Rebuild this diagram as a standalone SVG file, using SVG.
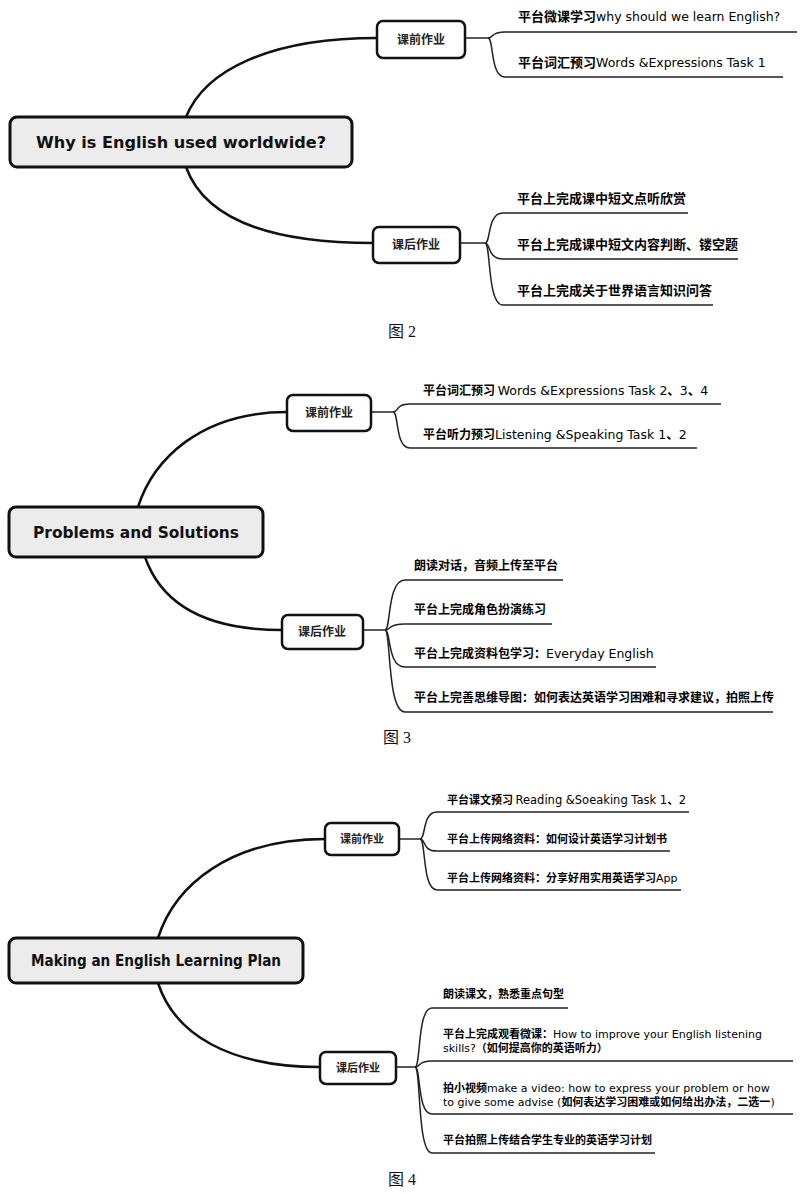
<svg xmlns="http://www.w3.org/2000/svg" width="800" height="1194" viewBox="0 0 800 1194">
<style>
.bg{fill:#fff}
.root rect{fill:#ececec;stroke:#111;stroke-width:3}
.root text{font-family:"DejaVu Sans","Noto Sans CJK SC",sans-serif;font-weight:bold;fill:#111;text-anchor:middle}
.box rect{fill:#fff;stroke:#111;stroke-width:2.5}
.box text{font-family:"Noto Sans CJK SC",sans-serif;font-weight:bold;fill:#222;text-anchor:middle}
.main{fill:none;stroke:#111;stroke-width:2.5}
.br{fill:none;stroke:#222;stroke-width:1.5}
.leaf{font-family:"DejaVu Sans","Noto Sans CJK SC",sans-serif;fill:#000}
.cj{font-family:"Noto Sans CJK SC",sans-serif;font-weight:bold}
.cap{font-family:"Liberation Serif","Noto Sans CJK SC",serif;font-size:16px;fill:#111}
</style>
<rect class="bg" x="0" y="0" width="800" height="1194"/>

<g id="connectors">
  <!-- diagram 1 -->
  <path class="main" d="M186,117 C205,70 270,38 377,38"/>
  <path class="main" d="M186,167 C205,220 270,243 373,243"/>
  <path class="br" d="M465,38 L488,38"/>
  <path class="br" d="M488,38 C494,38 490,32 505,32 L797,32"/>
  <path class="br" d="M488,38 C494,38 490,77 505,77 L783,77"/>
  <path class="br" d="M460,243 L485,243"/>
  <path class="br" d="M485,243 C491,243 487,213 503,213 L688,213"/>
  <path class="br" d="M485,243 C491,243 487,259 503,259 L738,259"/>
  <path class="br" d="M485,243 C491,243 487,305 503,305 L713,305"/>
  <!-- diagram 2 -->
  <path class="main" d="M138,507 C153,460 200,412 287,412"/>
  <path class="main" d="M145,557 C160,600 200,630 282,630"/>
  <path class="br" d="M371,412 L393,412"/>
  <path class="br" d="M393,412 C399,412 395,404 410,404 L721,404"/>
  <path class="br" d="M393,412 C399,412 395,448 410,448 L697,448"/>
  <path class="br" d="M363,630 L385,630"/>
  <path class="br" d="M385,630 C391,630 387,580 405,580 L563,580"/>
  <path class="br" d="M385,630 C391,630 387,624 405,624 L552,624"/>
  <path class="br" d="M385,630 C391,630 387,667 405,667 L656,667"/>
  <path class="br" d="M385,630 C391,630 387,712 405,712 L773,712"/>
  <!-- diagram 3 -->
  <path class="main" d="M158,938 C175,885 230,839 325,839"/>
  <path class="main" d="M158,983 C175,1035 230,1067 320,1067"/>
  <path class="br" d="M399,839 L420,839"/>
  <path class="br" d="M420,839 C426,839 422,812 437,812 L689,812"/>
  <path class="br" d="M420,839 C426,839 422,851 437,851 L670,851"/>
  <path class="br" d="M420,839 C426,839 422,890 437,890 L681,890"/>
  <path class="br" d="M396,1067 L415,1067"/>
  <path class="br" d="M415,1067 C421,1067 417,1008 432,1008 L568,1008"/>
  <path class="br" d="M415,1067 C421,1067 417,1061 432,1061 L793,1061"/>
  <path class="br" d="M415,1067 C421,1067 417,1114 432,1114 L793,1114"/>
  <path class="br" d="M415,1067 C421,1067 417,1153 432,1153 L655,1153"/>
</g>

<!-- Diagram 1 -->
<g id="root1" class="root"><rect x="10" y="117" width="342" height="50" rx="7"/><text x="181" y="148" font-size="16" textLength="290" lengthAdjust="spacingAndGlyphs">Why is English used worldwide?</text></g>
<g id="pre1" class="box"><rect x="377" y="21" width="88" height="37" rx="6"/><text x="421" y="44" font-size="12">课前作业</text></g>
<g id="post1" class="box"><rect x="373" y="227" width="87" height="36" rx="6"/><text x="416" y="249" font-size="12">课后作业</text></g>
<g id="d1a"><text class="leaf" x="518" y="21" font-size="12.5"><tspan class="cj" font-size="13">平台微课学习</tspan>why should we learn English?</text></g>
<g id="d1b"><text class="leaf" x="518" y="67" font-size="12.5"><tspan class="cj" font-size="13">平台词汇预习</tspan>Words &amp;Expressions Task 1</text></g>
<g id="d1c"><text class="leaf cj" x="517" y="203" font-size="13">平台上完成课中短文点听欣赏</text></g>
<g id="d1d"><text class="leaf cj" x="517" y="249" font-size="13">平台上完成课中短文内容判断、镂空题</text></g>
<g id="d1e"><text class="leaf cj" x="517" y="295" font-size="13">平台上完成关于世界语言知识问答</text></g>
<text class="cap" x="388" y="337">图 2</text>

<!-- Diagram 2 -->
<g id="root2" class="root"><rect x="9" y="507" width="254" height="50" rx="7"/><text x="136" y="538" font-size="16" textLength="206" lengthAdjust="spacingAndGlyphs">Problems and Solutions</text></g>
<g id="pre2" class="box"><rect x="287" y="395" width="84" height="36" rx="6"/><text x="329" y="417" font-size="12">课前作业</text></g>
<g id="post2" class="box"><rect x="282" y="615" width="81" height="34" rx="6"/><text x="322" y="636" font-size="12">课后作业</text></g>
<g id="d2a"><text class="leaf" x="423" y="395" font-size="12.5"><tspan class="cj" font-size="12">平台词汇预习 </tspan>Words &amp;Expressions Task 2<tspan class="cj">、</tspan>3<tspan class="cj">、</tspan>4</text></g>
<g id="d2b"><text class="leaf" x="423" y="439" font-size="12.5"><tspan class="cj" font-size="12">平台听力预习</tspan>Listening &amp;Speaking Task 1<tspan class="cj">、</tspan>2</text></g>
<g id="d2c"><text class="leaf cj" x="414" y="570" font-size="12">朗读对话，音频上传至平台</text></g>
<g id="d2d"><text class="leaf cj" x="414" y="614" font-size="12">平台上完成角色扮演练习</text></g>
<g id="d2e"><text class="leaf" x="414" y="658" font-size="12.5"><tspan class="cj" font-size="12">平台上完成资料包学习：</tspan>Everyday English</text></g>
<g id="d2f"><text class="leaf cj" x="414" y="702" font-size="12">平台上完善思维导图：如何表达英语学习困难和寻求建议，拍照上传</text></g>
<text class="cap" x="383" y="743">图 3</text>

<!-- Diagram 3 -->
<g id="root3" class="root"><rect x="9" y="938" width="294" height="45" rx="7"/><text x="156" y="966" font-size="16" textLength="250" lengthAdjust="spacingAndGlyphs">Making an English Learning Plan</text></g>
<g id="pre3" class="box"><rect x="325" y="823" width="74" height="32" rx="6"/><text x="362" y="843" font-size="11">课前作业</text></g>
<g id="post3" class="box"><rect x="320" y="1052" width="76" height="32" rx="6"/><text x="358" y="1072" font-size="11">课后作业</text></g>
<g id="d3a"><text class="leaf" x="447" y="804" font-size="11.5"><tspan class="cj" font-size="11">平台课文预习 </tspan>Reading &amp;Soeaking Task 1<tspan class="cj">、</tspan>2</text></g>
<g id="d3b"><text class="leaf cj" x="447" y="843" font-size="11">平台上传网络资料：如何设计英语学习计划书</text></g>
<g id="d3c"><text class="leaf" x="447" y="882" font-size="11"><tspan class="cj">平台上传网络资料：分享好用实用英语学习</tspan>App</text></g>
<g id="d3d"><text class="leaf cj" x="443" y="998" font-size="11">朗读课文，熟悉重点句型</text></g>
<g id="d3e"><text class="leaf" x="443" y="1038" font-size="11"><tspan class="cj">平台上完成观看微课：</tspan>How to improve your English listening</text><text class="leaf" x="443" y="1052" font-size="11">skills?<tspan class="cj">（如何提高你的英语听力）</tspan></text></g>
<g id="d3f"><text class="leaf" x="443" y="1092" font-size="11"><tspan class="cj">拍小视频</tspan>make a video: how to express your problem or how</text><text class="leaf" x="443" y="1106" font-size="11">to give some advise (<tspan class="cj">如何表达学习困难或如何给出办法，二选一</tspan>)</text></g>
<g id="d3g"><text class="leaf cj" x="443" y="1144" font-size="11">平台拍照上传结合学生专业的英语学习计划</text></g>
<text class="cap" x="388" y="1185">图 4</text>
</svg>
